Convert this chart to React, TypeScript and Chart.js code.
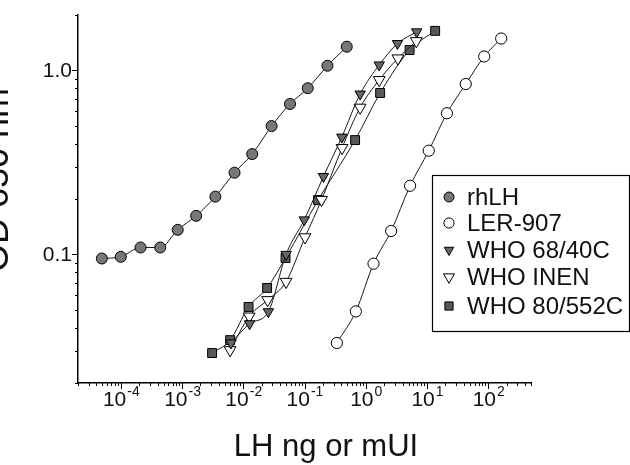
import React, { useEffect, useRef } from 'react';
import { Chart, registerables } from 'chart.js';
import { drawPoint } from 'chart.js/helpers';

Chart.register(...registerables);

// Dose (ng or mUI) and optical density for each preparation
const rhLHDose = [4.9e-5, 1.0e-4, 2.1e-4, 4.4e-4, 8.5e-4, 1.7e-3, 3.5e-3, 7.2e-3, 0.014, 0.029, 0.058, 0.113, 0.237, 0.49];
const rhLHOD = [0.095, 0.097, 0.109, 0.109, 0.136, 0.162, 0.206, 0.278, 0.351, 0.498, 0.657, 0.8, 1.06, 1.345];

const ler907Dose = [0.337, 0.69, 1.34, 2.6, 5.3, 10.7, 21.2, 43, 86, 163];
const ler907OD = [0.033, 0.049, 0.089, 0.134, 0.236, 0.366, 0.585, 0.843, 1.19, 1.49];

const who6840Dose = [0.0063, 0.0127, 0.0257, 0.05, 0.099, 0.204, 0.407, 0.81, 1.66, 3.3, 6.8];
const who6840OD = [0.033, 0.042, 0.0488, 0.1, 0.154, 0.265, 0.434, 0.744, 1.07, 1.4, 1.62];

const whoInenDose = [0.0061, 0.0125, 0.025, 0.05, 0.102, 0.19, 0.41, 0.81, 1.66, 3.35, 6.7];
const whoInenOD = [0.0302, 0.046, 0.0565, 0.071, 0.124, 0.198, 0.379, 0.628, 0.887, 1.163, 1.444];

const who80552Dose = [0.0031, 0.0061, 0.0122, 0.0245, 0.049, 0.167, 0.67, 1.72, 5.2, 13.6];
const who80552OD = [0.0291, 0.0342, 0.0518, 0.0657, 0.0956, 0.1975, 0.418, 0.754, 1.29, 1.64];

const seriesNames = ['rhLH', 'LER-907', 'WHO 68/40C', 'WHO INEN', 'WHO 80/552C'];

const xTickExponents = [-4, -3, -2, -1, 0, 1, 2];
const yTickValues = [0.1, 1.0];
const yTickLabels = ['0.1', '1.0'];

const xTitle = 'LH ng or mUI';
const yTitle = 'OD 650 nm';

const FONT = "'Liberation Sans', Arial, Helvetica, sans-serif";

type Marker = { pointStyle: string; rotation: number; radius: number; fill: string };
const markers: Marker[] = [
  { pointStyle: 'circle', rotation: 0, radius: 5.5, fill: '#777777' },
  { pointStyle: 'circle', rotation: 0, radius: 5.6, fill: '#ffffff' },
  { pointStyle: 'triangle', rotation: 180, radius: 6.0, fill: '#666666' },
  { pointStyle: 'triangle', rotation: 180, radius: 6.8, fill: '#ffffff' },
  { pointStyle: 'rect', rotation: 0, radius: 6.3, fill: '#585858' },
];

const toPoints = (xs: number[], ys: number[]) => xs.map((x, i) => ({ x, y: ys[i] }));

// Log-axis tick marks, tick labels with exponents, axis titles
const axisDecor = {
  id: 'axisDecor',
  afterDraw(chart: any) {
    const { ctx, chartArea } = chart;
    const xs = chart.scales.x;
    const ys = chart.scales.y;
    ctx.save();
    ctx.strokeStyle = '#000';
    ctx.lineWidth = 1;
    for (let e = -6; e <= 3; e++) {
      for (let m = 1; m <= 9; m++) {
        const v = m * Math.pow(10, e);
        if (v >= xs.min && v <= xs.max) {
          const px = Math.round(xs.getPixelForValue(v)) + 0.5;
          ctx.beginPath();
          ctx.moveTo(px, chartArea.bottom);
          ctx.lineTo(px, chartArea.bottom + (m === 1 ? 6 : 3));
          ctx.stroke();
        }
        if (v >= ys.min && v <= ys.max) {
          const py = Math.round(ys.getPixelForValue(v)) + 0.5;
          ctx.beginPath();
          ctx.moveTo(chartArea.left, py);
          ctx.lineTo(chartArea.left - (m === 1 ? 6 : 3), py);
          ctx.stroke();
        }
      }
    }

    ctx.fillStyle = '#111';
    ctx.textBaseline = 'alphabetic';
    xTickExponents.forEach((e) => {
      const px = xs.getPixelForValue(Math.pow(10, e));
      ctx.font = `21px ${FONT}`;
      const base = '10';
      const wb = ctx.measureText(base).width;
      ctx.font = `14px ${FONT}`;
      const sup = e < 0 ? '-' + Math.abs(e) : String(e);
      const wsup = ctx.measureText(sup).width;
      const start = px - (wb + wsup) / 2;
      ctx.font = `21px ${FONT}`;
      ctx.textAlign = 'left';
      ctx.fillText(base, start, 406);
      ctx.font = `14px ${FONT}`;
      ctx.fillText(sup, start + wb + 1, 396);
    });

    ctx.font = `21px ${FONT}`;
    ctx.textAlign = 'right';
    ctx.textBaseline = 'middle';
    yTickValues.forEach((v, i) => {
      ctx.fillText(yTickLabels[i], chartArea.left - 6, ys.getPixelForValue(v) + 1);
    });

    ctx.font = `31px ${FONT}`;
    ctx.textAlign = 'center';
    ctx.textBaseline = 'alphabetic';
    ctx.fillText(xTitle, 326, 456);

    ctx.save();
    ctx.font = `36px ${FONT}`;
    ctx.translate(8, 180);
    ctx.rotate(-Math.PI / 2);
    ctx.fillText(yTitle, 0, 0);
    ctx.restore();
    ctx.restore();
  },
};

const legendBox = {
  id: 'legendBox',
  afterDraw(chart: any) {
    const { ctx } = chart;
    ctx.save();
    ctx.strokeStyle = '#000';
    ctx.lineWidth = 1.2;
    ctx.strokeRect(432.5, 175.5, 197, 156);
    const rowY = [197, 223, 250, 277, 306];
    seriesNames.forEach((name, i) => {
      const mk = markers[i];
      ctx.fillStyle = mk.fill;
      ctx.strokeStyle = '#000';
      ctx.lineWidth = 1;
      drawPoint(ctx, { pointStyle: mk.pointStyle as any, rotation: mk.rotation, radius: mk.radius - 0.5, borderWidth: 1 }, 449, rowY[i]);
      ctx.fillStyle = '#111';
      ctx.font = `24px ${FONT}`;
      ctx.textAlign = 'left';
      ctx.textBaseline = 'middle';
      ctx.fillText(name, 467, rowY[i] + 1);
    });
    ctx.restore();
  },
};

export default function App() {
  const canvasRef = useRef<HTMLCanvasElement | null>(null);

  useEffect(() => {
    if (!canvasRef.current) return;
    const series = [
      toPoints(rhLHDose, rhLHOD),
      toPoints(ler907Dose, ler907OD),
      toPoints(who6840Dose, who6840OD),
      toPoints(whoInenDose, whoInenOD),
      toPoints(who80552Dose, who80552OD),
    ];
    const chart = new Chart(canvasRef.current, {
      type: 'scatter',
      data: {
        datasets: series.map((pts, i) => ({
          label: seriesNames[i],
          data: pts,
          showLine: true,
          borderColor: '#1a1a1a',
          borderWidth: 1,
          cubicInterpolationMode: 'monotone' as const,
          pointStyle: markers[i].pointStyle as any,
          rotation: markers[i].rotation,
          pointRadius: markers[i].radius,
          pointBackgroundColor: markers[i].fill,
          pointBorderColor: '#000',
          pointBorderWidth: 1,
        })),
      },
      options: {
        animation: false,
        responsive: false,
        layout: { padding: { left: 0, top: 15, right: 99, bottom: 0 } },
        plugins: { legend: { display: false }, tooltip: { enabled: false } },
        scales: {
          x: {
            type: 'logarithmic',
            min: 2e-5,
            max: 500,
            grid: { display: false },
            ticks: { display: false },
            border: { display: true, color: '#000', width: 1.5 },
            afterFit: (s: any) => { s.height = 82; },
          },
          y: {
            type: 'logarithmic',
            min: 0.02,
            max: 2,
            grid: { display: false },
            ticks: { display: false },
            border: { display: true, color: '#000', width: 1.5 },
            afterFit: (s: any) => { s.width = 78; },
          },
        },
      },
      plugins: [axisDecor, legendBox],
    });
    return () => chart.destroy();
  }, []);

  return (
    <div style={{ position: 'absolute', left: 0, top: 0, width: 630, height: 465, background: '#fff' }}>
      <canvas ref={canvasRef} width={630} height={465} />
    </div>
  );
}
